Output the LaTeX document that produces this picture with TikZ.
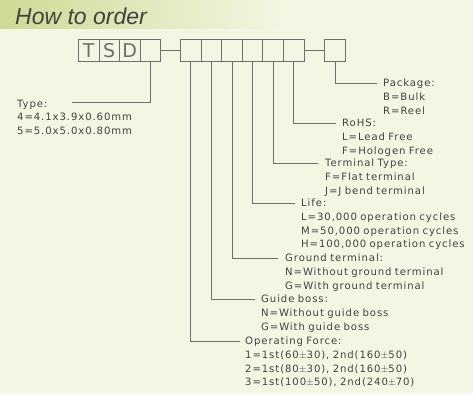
\documentclass[tikz,border=0pt]{standalone}
\usepackage{fontspec}
\usepackage{xcolor}
\usetikzlibrary{positioning}
\newfontfamily\cadfont{DejaVu Sans}[LetterSpace=9,WordSpace=3]
\newfontfamily\titlefont{Liberation Sans}
\definecolor{bgcream}{HTML}{F4F5E2}
\definecolor{bandgreen}{HTML}{CDDA94}
\definecolor{linegray}{HTML}{6E6E6A}
\definecolor{ink}{HTML}{424240}

\begin{document}
\begin{tikzpicture}[x=1pt, y=-1pt,
  node distance=0pt,
  cell/.style={draw=linegray, line width=0.8pt, minimum width=20.6pt, minimum height=22.7pt,
    inner sep=0pt, outer sep=0pt, text=linegray, font=\cadfont\fontsize{19}{19}\selectfont},
  spec/.style={anchor=base west, inner sep=0pt, text width=8cm, align=left, text=ink,
    font=\cadfont\fontsize{10.1}{13.7}\selectfont},
  lead/.style={draw=linegray, line width=0.8pt},
]
\useasboundingbox (0,0) rectangle (473,394);

% Background and title band
\fill[bgcream] (0,0) rectangle (473,394);
\shade[left color=bandgreen, right color=bgcream] (0,0) rectangle (280,28);
\node[anchor=base west, inner sep=0pt, text=ink, font=\titlefont\itshape\fontsize{23}{23}\selectfont] (title) at (15,24.5) {How to order};

% Part number cells
\node[cell] (t) at (88.6,50.3) {T};
\node[cell, right=of t] (s) {S};
\node[cell, right=of s] (d) {D};
\node[cell, right=of d] (type) {};
\node[cell, right=19.7pt of type] (force) {};
\node[cell, right=of force] (guide) {};
\node[cell, right=of guide] (ground) {};
\node[cell, right=of ground] (life) {};
\node[cell, right=of life] (term) {};
\node[cell, right=of term] (rohs) {};
\node[cell, right=20.7pt of rohs] (pack) {};

\draw[lead] (type.east) -- (force.west);
\draw[lead] (rohs.east) -- (pack.west);

% Code descriptions
\node[spec] (typeinfo) at (17,107) {Type:\\4=4.1x3.9x0.60mm\\5=5.0x5.0x0.80mm};
\node[spec] (packinfo) at (383,86.7) {Package:\\B=Bulk\\R=Reel};
\node[spec] (rohsinfo) at (342,126.7) {RoHS:\\L=Lead Free\\F=Hologen Free};
\node[spec] (terminfo) at (325,166.7) {Terminal Type:\\F=Flat terminal\\J=J bend terminal};
\node[spec] (lifeinfo) at (301,206.7) {Life:\\L=30,000 operation cycles\\M=50,000 operation cycles\\H=100,000 operation cycles};
\node[spec] (groundinfo) at (285,261.7) {Ground terminal:\\N=Without ground terminal\\G=With ground terminal};
\node[spec] (guideinfo) at (261,302.7) {Guide boss:\\N=Without guide boss\\G=With guide boss};
\node[spec] (forceinfo) at (245,344.7) {Operating Force:\\1=1st(60$\pm$30),~2nd(160$\pm$50)\\2=1st(80$\pm$30),~2nd(160$\pm$50)\\3=1st(100$\pm$50),~2nd(240$\pm$70)};

% Leader lines
\coordinate (typeend) at (71.7,102.3);
\draw[lead] (type.south) |- (typeend);
\draw[lead] (pack.south) |- ([xshift=-6pt,yshift=3.7pt]packinfo.base west);
\draw[lead] (rohs.south) |- ([xshift=-6pt,yshift=3.7pt]rohsinfo.base west);
\draw[lead] (term.south) |- ([xshift=-7pt,yshift=3.7pt]terminfo.base west);
\draw[lead] (life.south) |- ([xshift=-6pt,yshift=3.7pt]lifeinfo.base west);
\draw[lead] (ground.south) |- ([xshift=-7pt,yshift=3.7pt]groundinfo.base west);
\draw[lead] (guide.south) |- ([xshift=-6pt,yshift=3.7pt]guideinfo.base west);
\draw[lead] (force.south) |- ([xshift=-5pt,yshift=3.7pt]forceinfo.base west);

\end{tikzpicture}
\end{document}
